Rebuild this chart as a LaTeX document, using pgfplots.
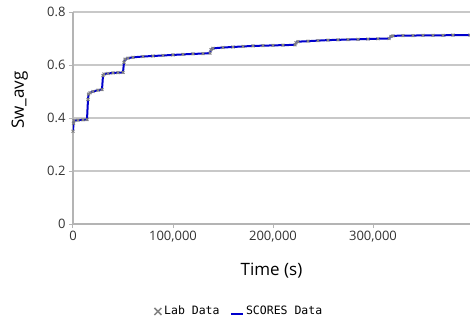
\documentclass[border=0pt]{standalone}
\usepackage{fontspec}
\setmainfont{Open Sans}
\newfontfamily\monof{DejaVu Sans Mono}
\usepackage{pgfplots}
\usepackage{pgfplotstable}
\pgfplotsset{compat=1.18}
\definecolor{gridgray}{RGB}{200,200,200}
\definecolor{axgray}{RGB}{180,180,180}
\definecolor{labgray}{RGB}{130,130,130}
\definecolor{scblue}{RGB}{0,0,205}
\pgfplotstableread{
t y
0 0.35
500 0.38
1000 0.39
5000 0.392
10000 0.393
14000 0.394
15000 0.47
15500 0.49
17000 0.495
20000 0.50
25000 0.505
29000 0.507
30000 0.56
31000 0.566
35000 0.568
40000 0.570
45000 0.571
50000 0.572
51000 0.61
52000 0.622
55000 0.626
60000 0.629
70000 0.632
80000 0.634
90000 0.636
100000 0.638
110000 0.640
120000 0.642
130000 0.643
137000 0.645
138000 0.658
140000 0.663
150000 0.666
160000 0.668
170000 0.670
180000 0.672
190000 0.673
200000 0.674
210000 0.675
222000 0.676
223000 0.684
225000 0.688
235000 0.690
245000 0.692
255000 0.694
265000 0.695
275000 0.696
285000 0.697
295000 0.698
305000 0.699
316000 0.700
318000 0.708
320000 0.710
330000 0.711
340000 0.711
350000 0.712
360000 0.712
370000 0.712
380000 0.713
397000 0.713
}\scores
\begin{document}
\begin{tikzpicture}
\useasboundingbox (-73pt,-101pt) rectangle (397pt,224pt);
\clip (-73pt,-101pt) rectangle (397pt,224pt);
\begin{axis}[
  at={(0,0)}, anchor=south west,
  scale only axis, width=397pt, height=212pt,
  xmin=0, xmax=397000, ymin=0, ymax=0.8,
  axis lines*=left,
  axis line style={axgray, line width=1.2pt},
  xtick={0,100000,200000,300000},
  ytick={0,0.2,0.4,0.6,0.8},
  scaled ticks=false,
  /pgf/number format/assume math mode=true,
  xticklabel style={/pgf/number format/.cd, 1000 sep={,}, fixed},
  yticklabel style={/pgf/number format/.cd, fixed, precision=1},
  ticklabel style={font=\fontsize{13}{15}\selectfont, text=black!80},
  tick align=outside, major tick length=4pt,
  tick style={axgray, line width=1pt},
  ymajorgrids, grid style={gridgray, line width=1.2pt},
  xlabel={Time (s)}, ylabel={Sw\_avg},
  label style={font=\fontsize{17}{20}\selectfont},
  xlabel style={at={(axis description cs:0.5,-0.222)}, anchor=center},
  ylabel style={at={(axis description cs:-0.134,0.585)}, anchor=center},
  legend style={at={(axis description cs:0.418,-0.41)}, anchor=center, draw=none,
    font=\monof\fontsize{11.5}{13}\selectfont, legend columns=2,
    /tikz/every even column/.append style={column sep=8pt}},
  legend cell align=left,
]
\addplot[labgray, only marks, mark=x, mark size=2pt, mark options={line width=1pt},
  legend image code/.code={\draw[labgray, line width=1.5pt] (1pt,-4pt) -- (8pt,3pt) (1pt,3pt) -- (8pt,-4pt);}] table[x=t,y=y] {\scores};
\addlegendentry{Lab Data}
\addplot[scblue, line width=2pt, mark=none,
  legend image code/.code={\draw[scblue, line width=2.5pt] (0pt,-3pt) -- (12pt,-3pt);}] table[x=t,y=y] {\scores};
\addlegendentry{SCORES Data}
\end{axis}
\end{tikzpicture}
\end{document}
